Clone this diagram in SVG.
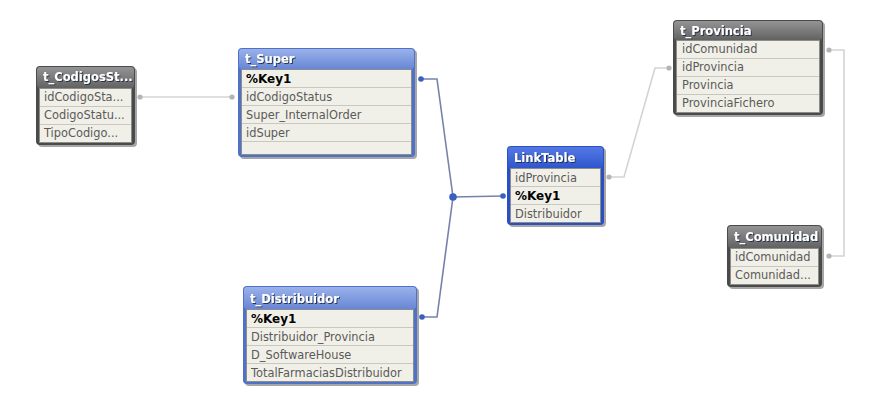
<svg xmlns="http://www.w3.org/2000/svg" width="873" height="403" viewBox="0 0 873 403">
<defs>
<linearGradient id="gBlue" x1="0" y1="0" x2="0" y2="1"><stop offset="0" stop-color="#9ab2ea"/><stop offset="1" stop-color="#6786d6"/></linearGradient>
<linearGradient id="gLink" x1="0" y1="0" x2="0" y2="1"><stop offset="0" stop-color="#5479e6"/><stop offset="1" stop-color="#2f56cc"/></linearGradient>
<linearGradient id="gGray" x1="0" y1="0" x2="0" y2="1"><stop offset="0" stop-color="#949494"/><stop offset="1" stop-color="#626262"/></linearGradient>
<filter id="ts" x="-10%" y="-30%" width="130%" height="160%"><feDropShadow dx="1" dy="1" stdDeviation="0" flood-color="#1e2a44" flood-opacity="0.9"/></filter>
</defs>
<style>
.shadow{fill:#000;opacity:0.35}
.fBlue{fill:#4f72c8}
.fLink{fill:#2a4fc4}
.fGray{fill:#4a4a4a}
.body{fill:#f1f0e8;stroke:#8c8c88;stroke-width:1}
.sep{stroke:#c9c8c0;stroke-width:1}
.hdr{font-family:"DejaVu Sans",sans-serif;font-weight:bold;font-size:11.5px;fill:#ffffff;filter:url(#ts)}
.fld{font-family:"DejaVu Sans",sans-serif;font-size:11.4px;fill:#5a5a5a}
.key{font-family:"DejaVu Sans",sans-serif;font-weight:bold;font-size:12px;fill:#000000}
.lnB{fill:none;stroke:#7682ae;stroke-width:1.6}
.lnG{fill:none;stroke:#d4d4d4;stroke-width:1.6}
.dB{fill:#3a5fc0}
.dG{fill:#b4b4b4}
</style>

<g id="connectors">
<path class="lnG" d="M140,97 H232"/>
<path class="lnB" d="M421,79 H437 L453,197"/>
<path class="lnB" d="M453,197 L503,196"/>
<path class="lnB" d="M453,197 L437,317 H422"/>
<path class="lnG" d="M609,177 H624 L655,68 H669"/>
<path class="lnG" d="M829,50 H844 V256 H829"/>
<circle class="dG" cx="140" cy="97" r="2.6"/>
<circle class="dG" cx="232" cy="97" r="2.6"/>
<circle class="dB" cx="421" cy="79" r="2.8"/>
<circle class="dB" cx="422" cy="317" r="2.8"/>
<circle class="dB" cx="503" cy="196" r="2.8"/>
<circle class="dB" cx="453" cy="197" r="3.8"/>
<circle class="dG" cx="609" cy="177" r="2.6"/>
<circle class="dG" cx="669" cy="68" r="2.6"/>
<circle class="dG" cx="829" cy="50" r="2.6"/>
<circle class="dG" cx="829" cy="256" r="2.6"/>
</g>

<g id="t_CodigosSt">
<rect class="shadow" x="38" y="68" width="99" height="79" rx="4"/>
<rect class="fGray" x="36" y="66" width="99" height="79" rx="4"/>
<rect fill="url(#gGray)" x="37" y="67" width="97" height="21" rx="3"/>
<rect class="body" x="39.5" y="88.5" width="92" height="54"/>
<line class="sep" x1="40" y1="106.5" x2="131" y2="106.5"/>
<line class="sep" x1="40" y1="124.5" x2="131" y2="124.5"/>
<text class="hdr" x="43" y="81">t_CodigosSt...</text>
<text class="fld" x="44" y="101">idCodigoSta...</text>
<text class="fld" x="44" y="119">CodigoStatu...</text>
<text class="fld" x="44" y="137">TipoCodigo...</text>
</g>

<g id="t_Super">
<rect class="shadow" x="240" y="50" width="177" height="109" rx="4"/>
<rect class="fBlue" x="238" y="48" width="177" height="109" rx="4"/>
<rect fill="url(#gBlue)" x="239" y="49" width="175" height="20" rx="3"/>
<rect class="body" x="241.5" y="69.5" width="170" height="85"/>
<line class="sep" x1="242" y1="87.5" x2="411" y2="87.5"/>
<line class="sep" x1="242" y1="105.5" x2="411" y2="105.5"/>
<line class="sep" x1="242" y1="123.5" x2="411" y2="123.5"/>
<line class="sep" x1="242" y1="141.5" x2="411" y2="141.5"/>
<text class="hdr" x="245" y="63">t_Super</text>
<text class="key" x="246" y="83">%Key1</text>
<text class="fld" x="246" y="101">idCodigoStatus</text>
<text class="fld" x="246" y="119">Super_InternalOrder</text>
<text class="fld" x="246" y="137">idSuper</text>
</g>

<g id="t_Distribuidor">
<rect class="shadow" x="245" y="288" width="174" height="98" rx="4"/>
<rect class="fBlue" x="243" y="286" width="174" height="98" rx="4"/>
<rect fill="url(#gBlue)" x="244" y="287" width="172" height="22" rx="3"/>
<rect class="body" x="246.5" y="309.5" width="167" height="72"/>
<line class="sep" x1="247" y1="327.5" x2="413" y2="327.5"/>
<line class="sep" x1="247" y1="345.5" x2="413" y2="345.5"/>
<line class="sep" x1="247" y1="363.5" x2="413" y2="363.5"/>
<text class="hdr" x="250" y="303">t_Distribuidor</text>
<text class="key" x="251" y="323">%Key1</text>
<text class="fld" x="251" y="341">Distribuidor_Provincia</text>
<text class="fld" x="251" y="359">D_SoftwareHouse</text>
<text class="fld" x="251" y="377">TotalFarmaciasDistribuidor</text>
</g>

<g id="LinkTable">
<rect class="shadow" x="509" y="148" width="97" height="79" rx="4"/>
<rect class="fLink" x="507" y="146" width="97" height="79" rx="4"/>
<rect fill="url(#gLink)" x="508" y="147" width="95" height="21" rx="3"/>
<rect class="body" x="510.5" y="168.5" width="90" height="54"/>
<line class="sep" x1="511" y1="186.5" x2="600" y2="186.5"/>
<line class="sep" x1="511" y1="204.5" x2="600" y2="204.5"/>
<text class="hdr" x="514" y="162">LinkTable</text>
<text class="fld" x="515" y="182">idProvincia</text>
<text class="key" x="515" y="200">%Key1</text>
<text class="fld" x="515" y="218">Distribuidor</text>
</g>

<g id="t_Provincia">
<rect class="shadow" x="675" y="22" width="150" height="95" rx="4"/>
<rect class="fGray" x="673" y="20" width="150" height="95" rx="4"/>
<rect fill="url(#gGray)" x="674" y="21" width="148" height="19" rx="3"/>
<rect class="body" x="676.5" y="40.5" width="143" height="72"/>
<line class="sep" x1="677" y1="58.5" x2="819" y2="58.5"/>
<line class="sep" x1="677" y1="76.5" x2="819" y2="76.5"/>
<line class="sep" x1="677" y1="94.5" x2="819" y2="94.5"/>
<text class="hdr" x="680" y="35">t_Provincia</text>
<text class="fld" x="682" y="53">idComunidad</text>
<text class="fld" x="682" y="71">idProvincia</text>
<text class="fld" x="682" y="89">Provincia</text>
<text class="fld" x="682" y="107">ProvinciaFichero</text>
</g>

<g id="t_Comunidad">
<rect class="shadow" x="729" y="227" width="95" height="62" rx="4"/>
<rect class="fGray" x="727" y="225" width="95" height="62" rx="4"/>
<rect fill="url(#gGray)" x="728" y="226" width="93" height="22" rx="3"/>
<rect class="body" x="730.5" y="248.5" width="88" height="36"/>
<line class="sep" x1="731" y1="266.5" x2="818" y2="266.5"/>
<text class="hdr" x="734" y="241">t_Comunidad</text>
<text class="fld" x="735" y="261">idComunidad</text>
<text class="fld" x="735" y="279">Comunidad...</text>
</g>
</svg>
